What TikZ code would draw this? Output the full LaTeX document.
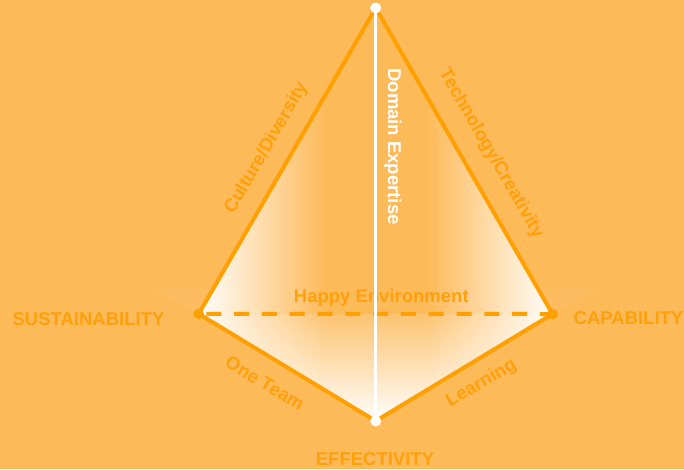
\documentclass[tikz,border=0pt]{standalone}
\usepackage{fontspec}
\setmainfont{Liberation Sans}
\usetikzlibrary{fadings}
\definecolor{bg}{RGB}{253,186,89}
\definecolor{edge}{RGB}{255,160,0}
\definecolor{lbl}{RGB}{255,160,10}
\tikzfading[name=fadeup, top color=transparent!100, bottom color=transparent!0]
\tikzset{
  lab/.style={font=\fontsize{18.5}{20}\selectfont\bfseries, text=lbl, inner sep=0pt},
  wlab/.style={font=\fontsize{18.5}{20}\selectfont\bfseries, text=white, inner sep=0pt},
  edgeline/.style={draw=edge, line width=4pt, line join=round},
  dashline/.style={draw=edge, line width=4pt, dash pattern=on 15pt off 12.8pt, dash phase=20.2pt},
  axisline/.style={draw=white, line width=3pt},
  wdot/.style={circle, fill=white, minimum size=11pt, inner sep=0pt},
  odot/.style={circle, fill=edge, minimum size=10.5pt, inner sep=0pt}
}
\begin{document}
\begin{tikzpicture}[x=1pt,y=-1pt]
\fill[bg] (0,0) rectangle (684,469);
\useasboundingbox (0,0) rectangle (684,469);
% vertices
\coordinate (T) at (375.7,8);
\coordinate (L) at (198.7,313.8);
\coordinate (R) at (552.5,314);
\coordinate (B) at (375.7,421);
% faint wedges outside
\fill[white, opacity=0.04] (L) -- (152,288) -- (214,288) -- cycle;
\fill[white, opacity=0.04] (R) -- (600,288) -- (537,288) -- cycle;
% left face shading
\begin{scope}
  \clip (T) -- (L) -- (B) -- cycle;
  \shade[left color=white, right color=bg] (198,0) rectangle (325,430);
\end{scope}
% right face shading
\begin{scope}
  \clip (T) -- (R) -- (B) -- cycle;
  \shade[left color=bg, right color=white] (427,0) rectangle (554,430);
\end{scope}
% lower area whitening from the bottom vertex
\begin{scope}
  \clip (L) -- (R) -- (B) -- cycle;
  \fill[white, path fading=fadeup] (198,296) rectangle (554,422);
\end{scope}
% labels
\node[lab, anchor=base] (sus) at (88.5,325) {SUSTAINABILITY};
\node[lab, anchor=base] (cap) at (628.5,324.3) {CAPABILITY};
\node[lab, anchor=base] (eff) at (375,465.3) {EFFECTIVITY};
\node[lab, anchor=base] (hap) at (381.3,302.7) {Happy Environment};
\node[lab, rotate=60] (cul) at (266.5,148) {Culture/Diversity};
\node[lab, rotate=-60] (tec) at (491,153.5) {Technology/Creativity};
\node[lab, rotate=-30.8] (one) at (265,383) {One Team};
\node[lab, rotate=30.8] (lea) at (481.5,383.5) {Learning};
\node[wlab, rotate=-90] (dom) at (393,146.5) {Domain Expertise};
% connectors
\path[dashline] (L) -- (R);
\path[edgeline] (L) -- (T) -- (R) -- (B) -- cycle;
\path[axisline] (T) -- (B);
% vertex dots
\node[wdot] (t) at (T) {};
\node[wdot] (b) at (B) {};
\node[odot] (l) at (L) {};
\node[odot] (r) at (R) {};
\end{tikzpicture}
\end{document}
